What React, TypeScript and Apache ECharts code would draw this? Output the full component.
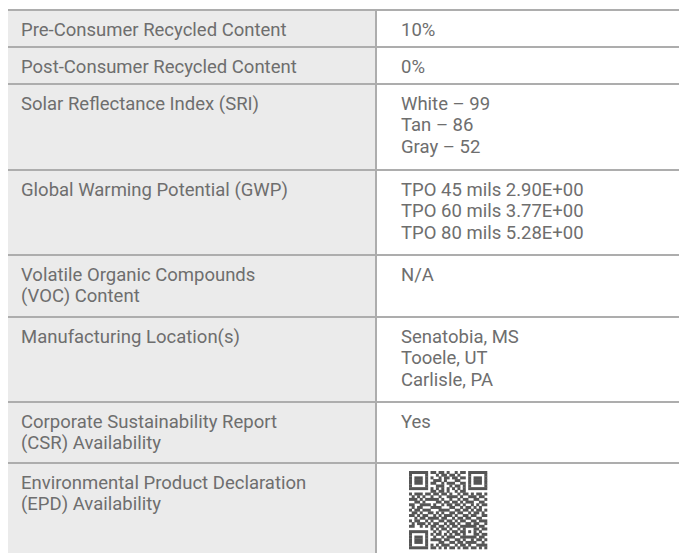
import React, { useEffect, useRef } from "react";
import * as echarts from "echarts";

// ---- Data ----
const propertyLabels: string[][] = [
  ["Pre-Consumer Recycled Content"],
  ["Post-Consumer Recycled Content"],
  ["Solar Reflectance Index (SRI)"],
  ["Global Warming Potential (GWP)"],
  ["Volatile Organic Compounds", "(VOC) Content"],
  ["Manufacturing Location(s)"],
  ["Corporate Sustainability Report", "(CSR) Availability"],
  ["Environmental Product Declaration", "(EPD) Availability"],
];

const propertyValues: string[][] = [
  ["10%"],
  ["0%"],
  ["White \u2013 99", "Tan \u2013 86", "Gray \u2013 52"],
  ["TPO 45 mils 2.90E+00", "TPO 60 mils 3.77E+00", "TPO 80 mils 5.28E+00"],
  ["N/A"],
  ["Senatobia, MS", "Tooele, UT", "Carlisle, PA"],
  ["Yes"],
  [], // QR code
];

// hand-read QR module bits (structure patterns overlaid per QR spec)
const qrRows: string[] = [
  "1011010011 0110100101 101100111",
  "0110101100 1011011010 010110100",
  "1101100110 0101101101 110010011",
  "0010111001 1101000110 011101010",
  "1100010111 0010111001 100110101",
  "0111101000 1110010110 101001110",
  "1001010110 1001101011 010110001",
  "0110011011 0110100101 101011010",
  "1011100101 1011010010 110101101",
  "0101011010 0100111101 001110110",
  "1110100111 1010010010 110011001",
  "0011011000 1101101101 011100110",
  "1100110101 0010110110 100101011",
  "0101101011 1100011001 011010100",
  "1011010100 0111100110 110101101",
  "0110101110 1010011011 001011010",
  "1101011001 0101110100 110110011",
  "0010110111 1011001011 011001100",
  "1011001010 0110110101 100110111",
  "0101110101 1001011010 011011001",
  "1100101011 0110101101 110100110",
  "0111010110 1011010010 101011011",
  "1010101101 0100101101 010110100",
  "0101011010 1101010110 101101011",
  "1110110101 0010111001 011010110",
  "0011001011 1101100110 100101101",
  "1101110100 0110011011 011110010",
  "0110101110 1011100101 101001111",
  "1011010011 0101011010 110110101",
];

// ---- Layout ----
const W = 679;
const H = 553;
const rowTops = [9, 46, 83, 169, 254, 316, 401, 462, 553];
const LEFT_X = 8;
const DIV_X = 375;
const TEXT_L = 21;
const TEXT_R = 401;
const FIRST_OFF = 20.5;
const LINE_H = 21.5;
const FONT = 18.5;
const TEXT_COLOR = "#6e6e6e";
const LINE_COLOR = "#adadad";
const QR_X = 409;
const QR_Y = 471;
const QR_SIZE = 78;

function buildQr(): number[][] {
  const n = 29;
  const m: number[][] = qrRows.map((r) => {
    const s = r.replace(/ /g, "");
    const row: number[] = [];
    for (let i = 0; i < n; i++) row.push(s[i] === "1" ? 1 : 0);
    return row;
  });
  const finder = (r0: number, c0: number) => {
    for (let r = -1; r <= 7; r++)
      for (let c = -1; c <= 7; c++) {
        const rr = r0 + r, cc = c0 + c;
        if (rr < 0 || cc < 0 || rr >= n || cc >= n) continue;
        let v = 0;
        if (r >= 0 && r <= 6 && c >= 0 && c <= 6) {
          if (r === 0 || r === 6 || c === 0 || c === 6) v = 1;
          else if (r >= 2 && r <= 4 && c >= 2 && c <= 4) v = 1;
        }
        m[rr][cc] = v;
      }
  };
  finder(0, 0);
  finder(0, n - 7);
  finder(n - 7, 0);
  for (let i = 8; i < n - 8; i++) {
    m[6][i] = i % 2 === 0 ? 1 : 0;
    m[i][6] = i % 2 === 0 ? 1 : 0;
  }
  for (let r = -2; r <= 2; r++)
    for (let c = -2; c <= 2; c++) {
      const ring = Math.max(Math.abs(r), Math.abs(c));
      m[22 + r][22 + c] = ring === 1 ? 0 : 1;
    }
  return m;
}

export default function App() {
  const ref = useRef<HTMLDivElement>(null);
  useEffect(() => {
    if (!ref.current) return;
    const chart = echarts.init(ref.current, undefined, { renderer: "svg" });
    const elements: any[] = [];

    elements.push({
      type: "rect",
      shape: { x: LEFT_X, y: rowTops[0], width: DIV_X - LEFT_X, height: H - rowTops[0] },
      style: { fill: "#ebebeb" },
      silent: true,
    });

    const addText = (t: string, x: number, y: number) =>
      elements.push({
        type: "text",
        x,
        y,
        style: {
          text: t,
          fill: TEXT_COLOR,
          font: `${FONT}px Roboto`,
          verticalAlign: "middle",
          align: "left",
        },
        silent: true,
      });

    propertyLabels.forEach((lines, i) => {
      const top = rowTops[i];
      lines.forEach((t, j) => addText(t, TEXT_L, top + FIRST_OFF + j * LINE_H));
      propertyValues[i].forEach((t, j) => addText(t, TEXT_R, top + FIRST_OFF + j * LINE_H));
    });

    rowTops.slice(0, rowTops.length - 1).forEach((y) => {
      elements.push({
        type: "rect",
        shape: { x: LEFT_X, y: y, width: W - LEFT_X, height: 2 },
        style: { fill: LINE_COLOR },
        silent: true,
      });
    });
    elements.push({
      type: "rect",
      shape: { x: DIV_X, y: rowTops[0], width: 2, height: H - rowTops[0] },
      style: { fill: LINE_COLOR },
      silent: true,
    });

    const qr = buildQr();
    const ms = QR_SIZE / qr.length;
    qr.forEach((row, r) => {
      let c = 0;
      while (c < row.length) {
        if (row[c] === 1) {
          let e = c;
          while (e + 1 < row.length && row[e + 1] === 1) e++;
          elements.push({
            type: "rect",
            shape: {
              x: QR_X + c * ms,
              y: QR_Y + r * ms,
              width: (e - c + 1) * ms + 0.3,
              height: ms + 0.3,
            },
            style: { fill: "#555555" },
            silent: true,
          });
          c = e + 1;
        } else c++;
      }
    });

    chart.setOption({
      animation: false,
      backgroundColor: "#ffffff",
      graphic: { elements },
    });
    return () => chart.dispose();
  }, []);
  return (
    <div
      ref={ref}
      style={{ position: "absolute", left: 0, top: 0, width: W, height: H }}
    />
  );
}
